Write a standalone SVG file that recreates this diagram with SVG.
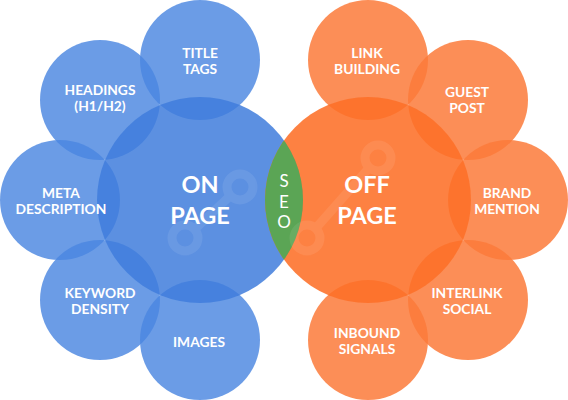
<svg xmlns="http://www.w3.org/2000/svg" width="568" height="400" viewBox="0 0 568 400">
<style>
.sb{fill:#4a86e0;fill-opacity:0.82}
.bb{fill:#3f7ddc;fill-opacity:0.85}
.so{fill:#fb7a3a;fill-opacity:0.85}
.bo{fill:#fd6f28;fill-opacity:0.88}
text{font-family:Lato,"Open Sans","DejaVu Sans",sans-serif;fill:#ffffff;text-anchor:middle;font-weight:700}
.s{font-size:13.8px}
.b{font-size:23.5px}
.seo{font-size:17px;font-weight:400}
.link{stroke:#ffffff;fill:none;stroke-width:9}
</style>
<defs>
<clipPath id="clipBlue"><circle cx="200" cy="200" r="103"/></clipPath>
</defs>
<g id="title-tags"><circle class="sb" cx="200" cy="60" r="60"/></g>
<g id="headings"><circle class="sb" cx="100" cy="100" r="60"/></g>
<g id="meta-description"><circle class="sb" cx="60" cy="200" r="60"/></g>
<g id="keyword-density"><circle class="sb" cx="100" cy="300" r="60"/></g>
<g id="images"><circle class="sb" cx="200" cy="340" r="60"/></g>
<g id="link-building"><circle class="so" cx="368" cy="60" r="60"/></g>
<g id="guest-post"><circle class="so" cx="468" cy="100" r="60"/></g>
<g id="brand-mention"><circle class="so" cx="508" cy="200" r="60"/></g>
<g id="interlink-social"><circle class="so" cx="468" cy="300" r="60"/></g>
<g id="inbound-signals"><circle class="so" cx="368" cy="340" r="60"/></g>
<g id="on-page"><circle class="bb" cx="200" cy="200" r="103"/></g>
<g id="off-page"><circle class="bo" cx="368" cy="200" r="103"/></g>
<g id="seo"><circle cx="368" cy="200" r="103" fill="#5ba555" clip-path="url(#clipBlue)"/></g>
<g id="decor" opacity="0.08">
<circle class="link" cx="240" cy="187" r="13"/>
<circle class="link" cx="185" cy="238" r="13"/>
<line class="link" x1="230" y1="196" x2="195" y2="229" stroke-width="5"/>
</g>
<g opacity="0.08">
<circle class="link" cx="378" cy="158" r="13"/>
<circle class="link" cx="307" cy="238" r="13"/>
<line class="link" x1="369" y1="168" x2="316" y2="228" stroke-width="5"/>
</g>
<g id="labels">
<text class="s" x="200" y="58">TITLE</text><text class="s" x="200" y="74">TAGS</text>
<text class="s" x="100" y="95">HEADINGS</text><text class="s" x="100" y="111">(H1/H2)</text>
<text class="s" x="61" y="198">META</text><text class="s" x="61" y="214">DESCRIPTION</text>
<text class="s" x="100" y="298">KEYWORD</text><text class="s" x="100" y="314">DENSITY</text>
<text class="s" x="199" y="347">IMAGES</text>
<text class="s" x="367" y="58">LINK</text><text class="s" x="367" y="74">BUILDING</text>
<text class="s" x="467" y="97">GUEST</text><text class="s" x="467" y="113">POST</text>
<text class="s" x="507" y="198">BRAND</text><text class="s" x="507" y="214">MENTION</text>
<text class="s" x="467" y="298">INTERLINK</text><text class="s" x="467" y="314">SOCIAL</text>
<text class="s" x="367" y="338">INBOUND</text><text class="s" x="367" y="354">SIGNALS</text>
<text class="b" x="200" y="193">ON</text><text class="b" x="200" y="224">PAGE</text>
<text class="b" x="367" y="193">OFF</text><text class="b" x="367" y="224">PAGE</text>
<text class="seo" x="284" y="187">S</text><text class="seo" x="284" y="208">E</text><text class="seo" x="284" y="228">O</text>
</g>
</svg>
